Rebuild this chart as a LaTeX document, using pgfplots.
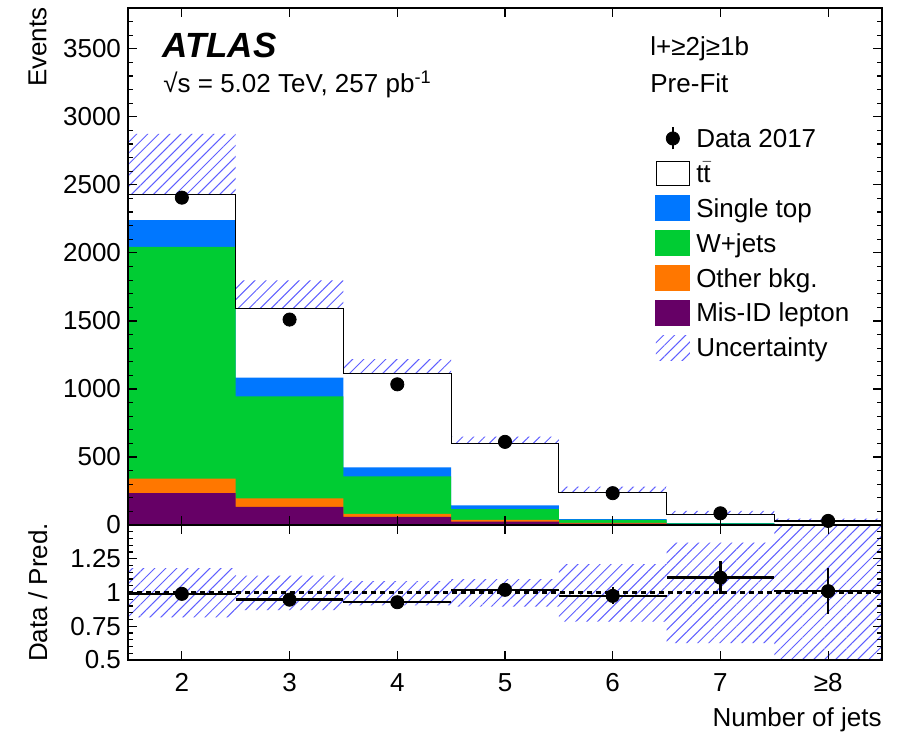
\documentclass[border=0pt]{standalone}
\usepackage{fontspec}
\setmainfont{Liberation Sans}
\usepackage{pgfplots}
\pgfplotsset{compat=1.18}
\usepgfplotslibrary{fillbetween}
\usetikzlibrary{patterns.meta}
\definecolor{cst}{RGB}{0,119,255}
\definecolor{cw}{RGB}{0,204,51}
\definecolor{coth}{RGB}{255,119,0}
\definecolor{cmis}{RGB}{102,0,102}
\definecolor{chatch}{RGB}{95,95,255}
\newcommand\fs{\fontsize{13}{15}\selectfont}
\tikzset{hatch/.style={pattern={Lines[angle=45,distance=3.9pt,line width=0.5pt]}, pattern color=chatch, draw=none}}
\pgfplotsset{
  atl/.style={scale only axis, width=377pt, axis on top, clip mode=individual,
    xmin=1.5, xmax=8.5, xtick={2,3,4,5,6,7,8}, tick align=inside,
    xtick pos=both, ytick pos=both, xticklabel pos=lower, yticklabel pos=left,
    major tick length=4.5pt, minor tick length=2.3pt,
    axis line style={line width=0.8pt}, tick style={black, line width=0.6pt},
    tick label style={font=\fs},
    /pgf/number format/assume math mode=true, /pgf/number format/1000 sep={}},
}
\begin{document}
\begin{tikzpicture}
% ---------------- top panel ----------------
\begin{axis}[atl, name=top, at={(64pt,-4pt)}, anchor=north west, height=258.5pt,
  ymin=0, ymax=3800, ytick={0,500,1000,1500,2000,2500,3000,3500},
  minor ytick={0,100,...,3800},
  xticklabels={},
  legend style={at={(rel axis cs:0.699,0.7755)}, anchor=north west, draw=none, fill=none,
    inner sep=0pt, row sep=3.45pt, font=\fs, nodes={inner sep=1pt}},
  legend cell align=left]
% stacked histograms (cumulative heights)
\addplot[fill=white, draw=none, const plot mark left, forget plot] coordinates
  {(1.5,2431)(2.5,1594)(3.5,1113)(4.5,598)(5.5,241)(6.5,76)(7.5,29.5)(8.5,29.5)} \closedcycle;
\addplot[fill=cst, draw=none, const plot mark left, forget plot] coordinates
  {(1.5,2241)(2.5,1084)(3.5,424)(4.5,145)(5.5,44)(6.5,14)(7.5,6)(8.5,6)} \closedcycle;
\addplot[fill=cw, draw=none, const plot mark left, forget plot] coordinates
  {(1.5,2044)(2.5,946)(3.5,357)(4.5,116)(5.5,37)(6.5,12)(7.5,5)(8.5,5)} \closedcycle;
\addplot[fill=coth, draw=none, const plot mark left, forget plot] coordinates
  {(1.5,340)(2.5,195)(3.5,81)(4.5,37)(5.5,15)(6.5,6)(7.5,2.5)(8.5,2.5)} \closedcycle;
\addplot[fill=cmis, draw=none, const plot mark left, forget plot] coordinates
  {(1.5,234)(2.5,133)(3.5,59)(4.5,25)(5.5,10)(6.5,4)(7.5,1.5)(8.5,1.5)} \closedcycle;
% uncertainty band
\addplot[name path=tup, draw=none, const plot mark left, forget plot] coordinates
  {(1.5,2874)(2.5,1798)(3.5,1219)(4.5,650)(5.5,283)(6.5,104)(7.5,46)(8.5,46)};
\addplot[name path=tlo, draw=none, const plot mark left, forget plot] coordinates
  {(1.5,1986)(2.5,1392)(3.5,1010)(4.5,547)(5.5,197)(6.5,48)(7.5,14)(8.5,14)};
\addplot[hatch, forget plot] fill between[of=tup and tlo];
% total outline
\addplot[black, line width=0.6pt, const plot mark left, forget plot] coordinates
  {(1.5,2431)(2.5,1594)(3.5,1113)(4.5,598)(5.5,241)(6.5,76)(7.5,29.5)(8.5,29.5)};
% data
\addplot[black, only marks, mark=*, mark size=3.3pt, forget plot,
  error bars/.cd, y dir=both, y explicit, error mark=none, error bar style={line width=1pt}]
  coordinates {(2,2406) +- (0,49) (3,1510) +- (0,39) (4,1034) +- (0,32) (5,611) +- (0,25)
               (6,234) +- (0,15) (7,86) +- (0,9.3) (8,30) +- (0,5.5)};
% texts
\node[anchor=base west, inner sep=0pt, font=\fontsize{17.5}{20}\selectfont\bfseries\itshape]
  at (rel axis cs:0.045,0.905) {ATLAS};
\node[anchor=base west, inner sep=0pt, font=\fs] at (rel axis cs:0.0464,0.8375)
  {√s = 5.02 TeV, 257 pb\textsuperscript{-1}};
\node[anchor=base west, inner sep=0pt, font=\fs] at (rel axis cs:0.6923,0.909) {l+≥2j≥1b};
\node[anchor=base west, inner sep=0pt, font=\fs] at (rel axis cs:0.6923,0.8375) {Pre-Fit};
% legend
\addlegendimage{legend image code/.code={\path[draw=none,fill=none] (0pt,-6.25pt) rectangle (17pt,6.25pt);
  \draw[black, line width=1pt] (8.5pt,-5.5pt) -- (8.5pt,5.5pt);
  \fill[black] (8.5pt,0pt) circle (3.3pt);}}
\addlegendentry{\hspace{2pt}\strut Data 2017}
\addlegendimage{legend image code/.code={\draw[black, line width=0.6pt, fill=white] (0.3pt,-6pt) rectangle (16.7pt,6pt);}}
\addlegendentry{\hspace{2pt}\strut t$\bar{\mbox{t}}$}
\addlegendimage{legend image code/.code={\fill[cst] (0pt,-6.25pt) rectangle (17pt,6.25pt);}}
\addlegendentry{\hspace{2pt}\strut Single top}
\addlegendimage{legend image code/.code={\fill[cw] (0pt,-6.25pt) rectangle (17pt,6.25pt);}}
\addlegendentry{\hspace{2pt}\strut W+jets}
\addlegendimage{legend image code/.code={\fill[coth] (0pt,-6.25pt) rectangle (17pt,6.25pt);}}
\addlegendentry{\hspace{2pt}\strut Other bkg.}
\addlegendimage{legend image code/.code={\fill[cmis] (0pt,-6.25pt) rectangle (17pt,6.25pt);}}
\addlegendentry{\hspace{2pt}\strut Mis-ID lepton}
\addlegendimage{legend image code/.code={\path[hatch] (0pt,-6.25pt) rectangle (17pt,6.25pt);}}
\addlegendentry{\hspace{2pt}\strut Uncertainty}
\end{axis}
% ---------------- ratio panel ----------------
\begin{axis}[atl, name=bot, at={(64pt,-262.5pt)}, anchor=north west, height=67.5pt,
  ymin=0.5, ymax=1.5, ytick={0.5,0.75,1,1.25,1.5}, yticklabels={0.5,0.75,1,1.25,},
  minor ytick={0.55,0.6,0.65,0.7,0.8,0.85,0.9,0.95,1.05,1.1,1.15,1.2,1.3,1.35,1.4,1.45},
  xticklabels={2,3,4,5,6,7,≥8}, xticklabel style={yshift=-3.2pt}]
\addplot[name path=rup, draw=none, const plot mark left, forget plot] coordinates
  {(1.5,1.18)(2.5,1.125)(3.5,1.085)(4.5,1.10)(5.5,1.21)(6.5,1.37)(7.5,1.6)(8.5,1.6)};
\addplot[name path=rlo, draw=none, const plot mark left, forget plot] coordinates
  {(1.5,0.815)(2.5,0.87)(3.5,0.905)(4.5,0.895)(5.5,0.785)(6.5,0.625)(7.5,0.4)(8.5,0.4)};
\addplot[hatch, forget plot] fill between[of=rup and rlo];
\addplot[black, line width=1.2pt, dash pattern=on 2.5pt off 2pt, forget plot] coordinates {(1.5,1)(8.5,1)};
\addplot[black, only marks, mark=*, mark size=3.3pt, forget plot,
  error bars/.cd, x dir=both, x explicit, y dir=both, y explicit, error mark=none,
  error bar style={line width=1.2pt}]
  coordinates {(2,0.99) +- (0.5,0.02) (3,0.947) +- (0.5,0.025) (4,0.928) +- (0.5,0.03)
               (5,1.02) +- (0.5,0.041) (6,0.975) +- (0.5,0.063) (7,1.11) +- (0.5,0.12)
               (8,1.01) +- (0.5,0.17)};
\end{axis}
% axis titles
\node[rotate=90, anchor=north east, inner sep=0pt, font=\fs] at (14pt,-3.5pt) {Events};
\node[rotate=90, anchor=north, inner sep=0pt, font=\fs] at (14pt,-296.25pt) {Data / Pred.};
\node[anchor=north east, inner sep=0pt, font=\fs] at (441pt,-353.5pt) {Number of jets};
\path (0,0) rectangle (451.5pt,-367pt);
\end{tikzpicture}
\end{document}
